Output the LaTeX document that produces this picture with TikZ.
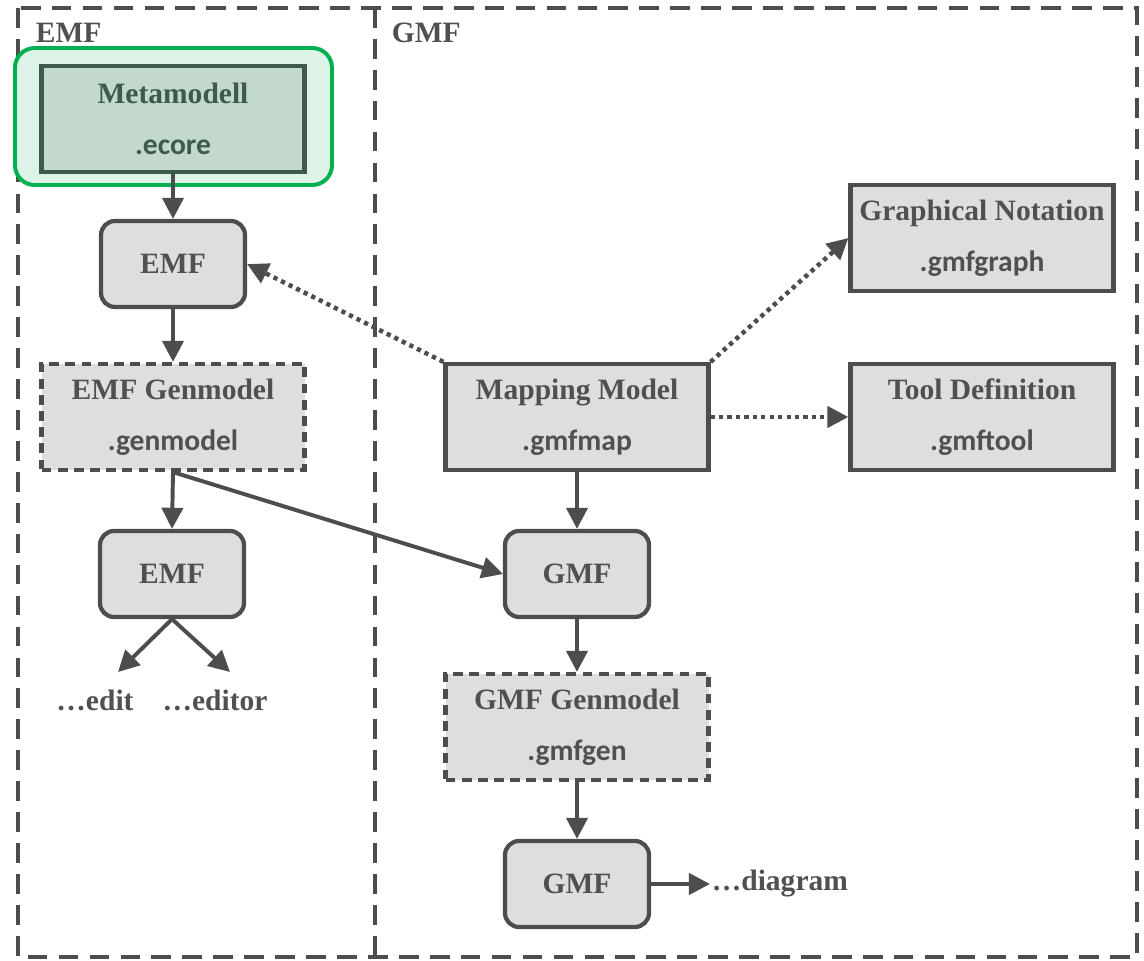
\documentclass[tikz,border=0pt]{standalone}
\usepackage{fontspec}
\usetikzlibrary{arrows.meta}
\setmainfont{Liberation Serif}
\newfontfamily\extfont{Carlito}

\definecolor{linegray}{HTML}{4D4D4D}
\definecolor{boxgray}{HTML}{DEDEDE}
\definecolor{textgray}{HTML}{505050}
\definecolor{ecoregreen}{HTML}{00B050}
\definecolor{ecorefill}{HTML}{DEF3E7}
\definecolor{metafill}{HTML}{C2D9CC}
\definecolor{metaline}{HTML}{3E5A4B}

\begin{document}
\begin{tikzpicture}[-,line width=2.6pt,
  box/.style={draw=linegray,fill=boxgray,line width=3pt,inner sep=0pt,align=center,
    minimum width=6.575cm,minimum height=2.65cm,text=textgray,
    font=\fontsize{21}{36}\selectfont\bfseries},
  emf node/.style={box,rounded corners=10pt,minimum width=3.6cm,minimum height=2.15cm},
  gen node/.style={box,dash pattern=on 7pt off 4.5pt},
  head/.style={text=textgray,font=\fontsize{21}{25}\selectfont\bfseries,inner sep=0pt},
  arr/.style={draw=linegray,line width=2.8pt,-{Triangle[length=15pt,width=15pt]}},
  dotarr/.style={arr,line width=3.2pt,dash pattern=on 3pt off 3pt}]
\tikzstyle{frame} = [draw=linegray,line width=2.8pt,dash pattern=on 14pt off 8pt]

\useasboundingbox (0,0) rectangle (28.6,-24.025);

% outer frame and divider
\coordinate (topleft) at (0.45,-0.2);
\coordinate (bottomright) at (28.425,-23.925);
\coordinate (divtop) at (9.375,-0.2);
\coordinate (divbottom) at (9.375,-23.925);
\draw[frame] (topleft) rectangle (bottomright);
\draw[frame] (divtop) -- (divbottom);

\node[head,anchor=west] (emfhead) at (0.85,-0.825) {EMF};
\node[head,anchor=west] (gmfhead) at (9.75,-0.825) {GMF};

% EMF column
\node[draw=ecoregreen,fill=ecorefill,line width=2.8pt,rounded corners=14pt,
  minimum width=7.925cm,minimum height=3.425cm] (ecoreframe) at (4.3375,-2.9125) {};
\node[box,draw=metaline,fill=metafill,text=metaline] (meta) at (4.325,-2.975)
  {Metamodell\\{\extfont .ecore}};
\node[emf node] (emfA) at (4.325,-6.6) {EMF};
\node[gen node] (emfgen) at (4.325,-10.425) {EMF Genmodel\\{\extfont .genmodel}};
\node[emf node] (emfB) at (4.3,-14.35) {EMF};
\node[head] (edit) at (2.375,-17.5) {\dots edit};
\node[head] (editor) at (5.375,-17.5) {\dots editor};
\coordinate (edittip) at (2.95,-16.8);
\coordinate (editortip) at (5.75,-16.8);

\draw[arr] (meta.south) -- (emfA.north);
\draw[arr] (emfA.south) -- (emfgen.north);
\draw[arr] (emfgen.south) -- (emfB.north);
\draw[arr] (emfB.south) -- (edittip);
\draw[arr] (emfB.south) -- (editortip);

% GMF column
\node[box] (gmfgraph) at (24.55,-5.95) {Graphical Notation\\{\extfont .gmfgraph}};
\node[box] (gmfmap) at (14.425,-10.425) {Mapping Model\\{\extfont .gmfmap}};
\node[box] (gmftool) at (24.55,-10.425) {Tool Definition\\{\extfont .gmftool}};
\node[emf node] (gmfA) at (14.425,-14.35) {GMF};
\node[gen node] (gmfgen) at (14.425,-18.175) {GMF Genmodel\\{\extfont .gmfgen}};
\node[emf node] (gmfB) at (14.425,-22.1) {GMF};
\node[head,anchor=west] (diagram) at (17.75,-22.1) {\dots diagram};

\draw[dotarr] (gmfmap.north west) -- (emfA.east);
\draw[dotarr] (gmfmap.north east) -- (gmfgraph.west);
\draw[dotarr] (gmfmap.east) -- (gmftool.west);
\draw[arr] (emfgen.south) -- (gmfA.west);
\draw[arr] (gmfmap.south) -- (gmfA.north);
\draw[arr] (gmfA.south) -- (gmfgen.north);
\draw[arr] (gmfgen.south) -- (gmfB.north);
\draw[arr] (gmfB.east) -- (gmfB.east -| diagram.west);

\end{tikzpicture}
\end{document}
